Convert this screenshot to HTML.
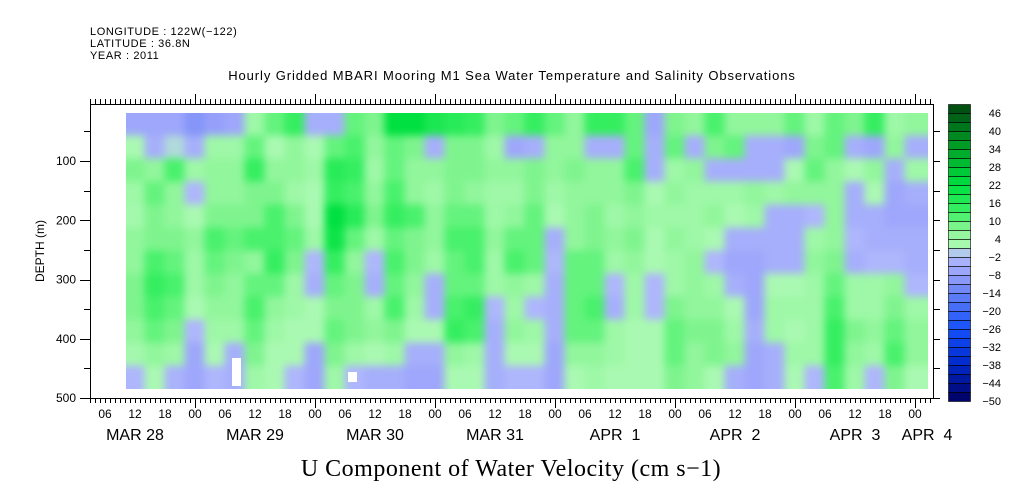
<!DOCTYPE html>
<html><head><meta charset="utf-8"><style>
body{margin:0;background:#fff;}
#wrap{position:relative;width:1009px;height:504px;overflow:hidden;}
#heatbox{position:absolute;left:126px;top:113px;width:802px;height:276px;overflow:hidden;z-index:0;}
#heatsvg{position:absolute;left:-20px;top:-20px;filter:blur(4px);}
#chart{position:absolute;left:0;top:0;z-index:1;}
svg{display:block;font-family:"Liberation Sans",sans-serif;}
</style></head><body>
<div id="wrap">
<div id="heatbox">
<svg id="heatsvg" width="842" height="316" viewBox="106 93 842 316"><g id="cells"></g></svg>
</div>
<svg id="chart" width="1009" height="504" viewBox="0 0 1009 504">
<g font-size="11" fill="#000" letter-spacing="0.6">
<text x="90" y="35">LONGITUDE : 122W(−122)</text>
<text x="90" y="47">LATITUDE : 36.8N</text>
<text x="90" y="59">YEAR : 2011</text>
</g>
<text x="512" y="80" font-size="13" letter-spacing="0.9" text-anchor="middle">Hourly Gridded MBARI Mooring M1 Sea Water Temperature and Salinity Observations</text>
<g id="gaps"></g>
<g id="axes" stroke="#000" fill="none"></g>
<g id="labels" font-size="12" fill="#000"></g>
<text transform="translate(44,251) rotate(-90)" font-size="12" text-anchor="middle">DEPTH (m)</text>
<text x="511" y="476" font-family="Liberation Serif, serif" font-size="24" letter-spacing="0.5" text-anchor="middle">U Component of Water Velocity (cm s−1)</text>
<g id="cbar"></g>
</svg>
</div>
<script>
// start hour of each column (hours since Mar 28 00:00), 4-hour bins
const colStartHour = 10, colHours = 4;
const depthTop = 19, depthBottom = 485, nRows = 12;
const values = [
[-6,2,8,4,3,6,6,8,8,6,3,-2],
[-6,-4,6,10,8,8,12,14,12,10,6,2],
[-6,0,12,6,6,8,10,12,10,8,4,-3],
[-10,-4,4,-2,2,6,4,4,2,-2,-6,-6],
[-8,4,6,6,8,12,10,8,6,4,2,-2],
[-6,4,6,6,8,10,8,6,6,4,-4,-4],
[4,10,14,8,8,12,6,10,12,10,8,4],
[10,2,6,8,12,12,14,10,6,4,2,2],
[14,6,6,4,8,10,8,4,4,2,2,-2],
[-4,2,4,2,2,4,-2,-4,2,2,-6,-6],
[-4,10,16,14,22,20,14,10,8,10,8,4],
[10,12,14,12,16,10,6,8,8,8,4,-2],
[8,6,4,6,8,4,-2,-4,4,6,2,-4],
[22,10,10,12,14,10,12,10,12,8,4,-4],
[22,8,6,6,12,8,8,6,4,2,-4,-6],
[18,-4,6,4,6,6,4,-4,-4,2,-4,-6],
[16,8,8,8,10,12,10,10,12,14,6,2],
[14,8,8,6,10,12,12,10,14,12,4,2],
[8,4,6,4,4,6,4,4,-2,-4,-4,-4],
[10,-6,6,4,6,10,12,6,4,6,2,-2],
[14,-4,8,8,10,10,10,4,-2,4,2,-2],
[10,6,6,4,2,-4,-2,-4,-4,-4,-6,-6],
[6,6,8,6,6,6,10,10,10,10,6,2],
[14,-4,6,6,8,8,10,10,12,10,6,4],
[14,-4,6,6,4,6,4,-2,-4,4,4,2],
[10,10,12,8,6,8,6,4,4,2,2,2],
[-6,-4,-4,2,4,2,2,-2,-2,2,2,2],
[8,10,4,6,4,6,4,4,8,10,10,8],
[6,-4,6,4,4,4,6,6,6,8,6,6],
[12,8,-4,4,6,2,-2,4,6,8,8,2],
[6,10,-4,4,2,-4,-6,-4,2,4,6,-4],
[6,-4,-4,6,4,-4,-6,-6,-6,-4,-6,-6],
[6,-4,-4,4,-4,-4,-4,2,4,4,-4,-4],
[10,-6,2,6,-4,-4,-4,2,4,2,4,2],
[4,8,10,6,-2,4,6,4,4,4,4,-2],
[10,10,6,6,6,6,8,10,12,14,14,12],
[8,-4,2,-4,-4,-2,-4,4,4,8,6,4],
[14,-6,6,2,-4,-4,-2,4,4,6,4,-2],
[4,6,-4,-6,-6,-4,-2,6,8,10,12,8],
[6,-4,4,-4,-6,-4,-4,-2,4,6,6,2],
[6,-4,4,-4,-6,-4,-4,-2,4,6,6,2]
];
const yTicks = [100,200,300,400,500];
const hourLabels = ["06","12","18","00"];
const dayLabels = ["MAR 28","MAR 29","MAR 30","MAR 31","APR  1","APR  2","APR  3","APR  4"];
const cbarTicks = [46,40,34,28,22,16,10,4,-2,-8,-14,-20,-26,-32,-38,-44,-50];

const NS="http://www.w3.org/2000/svg";
const svg=document.getElementById('chart');
function mk(t,a,p){const e=document.createElementNS(NS,t);for(const k in a)e.setAttribute(k,a[k]);(p||svg).appendChild(e);return e;}
const x=h=>90+h*5-15;
const y=d=>101.75+d*0.5925;
const anchors=[[-50,[0,0,96]],[-38,[0,40,200]],[-26,[20,80,250]],[-14,[100,128,245]],[-8,[150,160,250]],[-1,[178,186,252]],[1,[176,250,184]],[7,[140,245,150]],[13,[60,240,100]],[22,[0,224,64]],[34,[0,165,40]],[49,[0,70,16]]];
function color(v){
  if(v<=anchors[0][0])return 'rgb('+anchors[0][1]+')';
  for(let i=1;i<anchors.length;i++){if(v<=anchors[i][0]){const [a,ca]=anchors[i-1],[b,cb]=anchors[i];const t=(v-a)/(b-a);return 'rgb('+ca.map((c,j)=>Math.round(c+(cb[j]-c)*t)).join(',')+')';}}
  return 'rgb('+anchors[anchors.length-1][1]+')';
}
const cells=document.getElementById('cells');
const rowD=(depthBottom-depthTop)/nRows;
const nC=values.length;
values.forEach((col,i)=>{col.forEach((v,r)=>{
  const h0=colStartHour+i*colHours;
  let x0=x(h0)-0.5, w=colHours*5+1;
  if(i===0){x0-=25;w+=25;} if(i===nC-1){w+=25;}
  let y0=y(depthTop+r*rowD)-0.5, hh=rowD*0.5925+1;
  if(r===0){y0-=25;hh+=25;} if(r===col.length-1){hh+=25;}
  const c=mk('rect',{x:x0,y:y0,width:w,height:hh,fill:color(v)},cells);
  
  
});});
const gaps=document.getElementById('gaps');
const g1=mk('rect',{x:232,y:358,width:9,height:28,fill:'#fff'},gaps);


const g2=mk('rect',{x:348,y:372,width:9,height:10,fill:'#fff'},gaps);


const ax=document.getElementById('axes');
const frame=mk('rect',{x:90.5,y:104.5,width:843,height:294,'stroke-width':1},ax);


let d='';
for(let h=3;h<=(933-75)/5;h++){const px=Math.round(x(h))+0.5;const maj=h%24===0;d+=`M${px} 398V${maj?408:403}M${px} 104V${maj?94:99}`;}
for(let dep=50;dep<=500;dep+=50){const py=Math.round(y(dep))+0.5;d+=`M90 ${py}H${dep%100===0?80:84}M933 ${py}H940`;}
const tk=mk('path',{d:d,'stroke-width':1},ax);


const lab=document.getElementById('labels');
yTicks.forEach(v=>{const t=mk('text',{x:76,y:y(v)+4,'text-anchor':'end'},lab);t.textContent=v;

});
for(let h=6;h<=168;h+=6){const px=x(h);if(px>935)break;const t=mk('text',{x:px,y:418,'text-anchor':'middle'},lab);t.textContent=hourLabels[(h/6-1)%4];

}
dayLabels.forEach((s,i)=>{const px=i<7?x(i*24+12):x(168)+12;const t=mk('text',{x:px,y:440,'text-anchor':'middle','font-size':16},lab);t.textContent=s;t.setAttribute('style','white-space:pre');

});
const cb=document.getElementById('cbar');


const nb=33,bt=104,bh=9;
for(let i=0;i<nb;i++){const lo=49-3*(i+1);const r=mk('rect',{x:948.5,y:bt+i*bh+0.5,width:22,height:bh,fill:color(lo+1.5),stroke:'#000','stroke-width':0.6},cb);

}
const cby=v=>bt+(49-v)/3*bh;
cbarTicks.forEach(v=>{const t=mk('text',{x:1001,y:cby(v)+4,'text-anchor':'end','font-size':11},cb);t.textContent=v<0?'−'+(-v):v;

});
</script>
</body></html>
